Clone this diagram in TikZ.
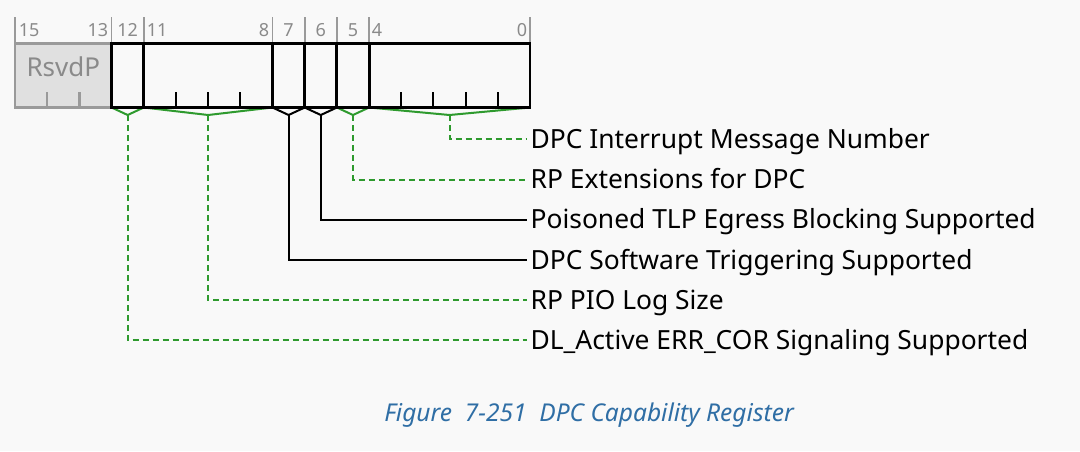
\documentclass[tikz,border=0pt]{standalone}
\usepackage{fontspec}
\setmainfont{Noto Sans}
\definecolor{bg}{HTML}{F9F9F9}
\definecolor{grn}{HTML}{2E9A2E}
\definecolor{gtxt}{HTML}{8A8A8A}
\definecolor{rsv}{HTML}{E0E0E0}
\definecolor{rsvb}{HTML}{9A9A9A}
\definecolor{capc}{HTML}{2F6EA5}
\tikzset{
  bitnum/.style={text=gtxt, font=\fontsize{13.5}{14}\selectfont, inner sep=0pt, text height=9.6pt, text depth=0pt},
  toptick/.style={draw=rsvb, line width=1.4pt},
  boxline/.style={draw=black, line width=2.2pt},
  inntick/.style={draw=black, line width=1.5pt},
  rtick/.style={draw=rsvb, line width=1.8pt},
  gbr/.style={draw=grn, line width=1.5pt},
  bbr/.style={draw=black, line width=1.5pt},
  gcon/.style={draw=grn, line width=1.5pt, dash pattern=on 4.5pt off 3pt},
  bcon/.style={draw=black, line width=1.5pt},
  lbl/.style={anchor=west, inner xsep=2.5pt, inner ysep=0pt, font=\fontsize{19.8}{22}\selectfont, text height=14.1pt, text depth=0pt},
}
\begin{document}
\begin{tikzpicture}[x=0.75pt,y=-0.75pt]
\fill[bg] (0,0) rectangle (1080,451);
\useasboundingbox (0,0) rectangle (1080,451);
% top ticks
\foreach \x in {15,111.56,143.75,272.5,304.69,336.88,369.06,530}
  \draw[toptick] (\x,17) -- (\x,43);
% bit numbers
\node[bitnum, anchor=west] (n15) at (18.5,30.5) {15};
\node[bitnum, anchor=east] (n13) at (108.5,30.5) {13};
\node[bitnum] (n12) at (127.66,30.5) {12};
\node[bitnum, anchor=west] (n11) at (146.5,30.5) {11};
\node[bitnum, anchor=east] (n8) at (269.5,30.5) {8};
\node[bitnum] (n7) at (288.6,30.5) {7};
\node[bitnum] (n6) at (320.8,30.5) {6};
\node[bitnum] (n5) at (353,30.5) {5};
\node[bitnum, anchor=west] (n4) at (371.5,30.5) {4};
\node[bitnum, anchor=east] (n0) at (527.5,30.5) {0};
% brackets
\coordinate (a12) at (127.66,115);
\coordinate (a11) at (208.1,115);
\coordinate (a7) at (288.6,115);
\coordinate (a6) at (320.8,115);
\coordinate (a5) at (353,115);
\coordinate (a4) at (449.5,115);
\draw[gbr] (111.56,107.5) -- (a12) -- (143.75,107.5);
\draw[gbr] (143.75,107.5) -- (a11) -- (272.5,107.5);
\draw[bbr] (272.5,107.5) -- (a7) -- (304.69,107.5);
\draw[bbr] (304.69,107.5) -- (a6) -- (336.88,107.5);
\draw[gbr] (336.88,107.5) -- (a5) -- (369.06,107.5);
\draw[gbr] (369.06,107.5) -- (a4) -- (530,107.5);
% reserved field
\draw[rtick, fill=rsv] (15,43.5) rectangle (111.56,107.5);
\node[text=gtxt, font=\fontsize{19.5}{20}\selectfont, inner sep=0pt, text height=13.9pt, text depth=0pt] (rsvd) at (63.3,67) {RsvdP};
\foreach \x in {47.19,79.38}
  \draw[rtick] (\x,92) -- (\x,107.5);
% register box
\draw[boxline] (111.56,43.5) rectangle (530,107.5);
\foreach \x in {143.75,272.5,304.69,336.88,369.06}
  \draw[boxline] (\x,43.5) -- (\x,107.5);
\foreach \x in {175.94,208.13,240.31,401.25,433.44,465.63,497.81}
  \draw[inntick] (\x,92) -- (\x,107.5);
% labels
\node[lbl] (l1) at (527,139) {DPC Interrupt Message Number};
\node[lbl] (l2) at (527,179.5) {RP Extensions for DPC};
\node[lbl] (l3) at (527,219.5) {Poisoned TLP Egress Blocking Supported};
\node[lbl] (l4) at (527,260) {DPC Software Triggering Supported};
\node[lbl] (l5) at (527,300) {RP PIO Log Size};
\node[lbl] (l6) at (527,340) {DL\_Active ERR\_COR Signaling Supported};
% connectors
\draw[gcon] (a4) |- (l1.west);
\draw[gcon] (a5) |- (l2.west);
\draw[bcon] (a6) |- (l3.west);
\draw[bcon] (a7) |- (l4.west);
\draw[gcon] (a11) |- (l5.west);
\draw[gcon] (a12) |- (l6.west);
% caption
\node[text=capc, font=\itshape\fontsize{18.4}{20}\selectfont, inner sep=0pt, text height=13.1pt, text depth=0pt] (cap) at (589,413) {Figure\ \ 7-251\ \ DPC Capability Register};
\end{tikzpicture}
\end{document}
